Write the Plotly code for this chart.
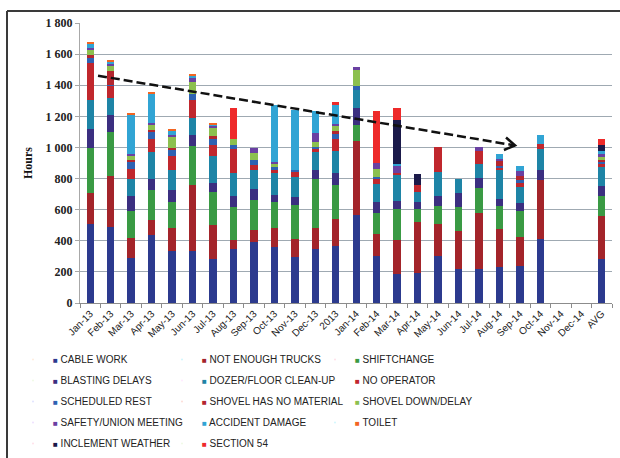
import math
import plotly.graph_objects as go

# ---------------------------------------------------------------- data
PERIODS = ["Jan-13", "Feb-13", "Mar-13", "Apr-13", "May-13", "Jun-13", "Jul-13",
           "Aug-13", "Sep-13", "Oct-13", "Nov-13", "Dec-13", "2013",
           "Jan-14", "Feb-14", "Mar-14", "Apr-14", "May-14", "Jun-14", "Jul-14",
           "Aug-14", "Sep-14", "Oct-14", "Nov-14", "Dec-14", "AVG"]

CAUSES = ["CABLE WORK", "NOT ENOUGH TRUCKS", "SHIFTCHANGE",
          "BLASTING DELAYS", "DOZER/FLOOR CLEAN-UP", "NO OPERATOR",
          "SCHEDULED REST", "SHOVEL HAS NO MATERIAL", "SHOVEL DOWN/DELAY",
          "SAFETY/UNION MEETING", "ACCIDENT DAMAGE", "TOILET",
          "INCLEMENT WEATHER", "SECTION 54"]

COLORS = ["#2C3A8E", "#A3242A", "#3A9A44",
          "#3B2F80", "#1E84A6", "#C0272D",
          "#2E62B2", "#B3262E", "#8CC04F",
          "#6A40A2", "#31A4D4", "#F26522",
          "#1B1A4A", "#EE2A2A"]

# hours per period (Nov-14 / Dec-14 not reported)
cable_work = [505, 486, 292, 437, 337, 337, 284, 348, 390, 363, 294, 348, 367,
              563, 305, 186, 196, 303, 220, 218, 230, 239, 412, None, None, 286]
not_enough_trucks = [203, 331, 128, 96, 143, 424, 217, 57, 79, 117, 116, 132, 173,
                     476, 137, 217, 322, 203, 245, 358, 246, 183, 377, None, None, 275]
shiftchange = [290, 281, 171, 192, 171, 248, 214, 209, 194, 171, 219, 320, 221,
               107, 138, 203, 86, 119, 154, 166, 149, 169, 0, None, None, 128]
blasting_delays = [118, 111, 96, 71, 74, 72, 57, 73, 67, 42, 54, 53, 75,
                   109, 71, 47, 47, 62, 85, 64, 43, 53, 68, None, None, 66]
dozer_floor = [189, 107, 109, 174, 132, 107, 173, 149, 127, 143, 128, 117, 139,
               115, 117, 172, 64, 156, 96, 90, 185, 103, 131, None, None, 120]
no_operator = [237, 80, 68, 86, 88, 117, 68, 152, 30, 17, 29, 17, 81,
               0, 26, 13, 42, 159, 0, 79, 15, 25, 36, None, None, 21]
scheduled_rest = [36, 8, 47, 42, 43, 39, 43, 30, 30, 22, 15, 15, 36,
                  28, 17, 0, 0, 0, 0, 0, 15, 21, 0, None, None, 13]
shovel_no_material = [15, 85, 10, 15, 8, 0, 19, 0, 0, 0, 0, 0, 11,
                      0, 0, 0, 0, 0, 0, 0, 27, 24, 0, None, None, 12]
shovel_down = [39, 32, 24, 34, 75, 75, 55, 39, 47, 17, 0, 36, 32,
               100, 53, 0, 0, 0, 0, 0, 0, 0, 0, None, None, 18]
safety_meeting = [8, 20, 15, 13, 10, 30, 11, 0, 32, 15, 0, 53, 17,
                  22, 36, 42, 0, 0, 0, 27, 18, 30, 0, None, None, 16]
accident_damage = [30, 10, 249, 188, 28, 16, 7, 0, 0, 366, 386, 145, 124,
                   0, 0, 15, 0, 0, 0, 0, 28, 34, 57, None, None, 22]
toilet = [6, 5, 7, 6, 7, 7, 4, 0, 0, 0, 0, 0, 0,
          0, 0, 0, 0, 0, 0, 0, 0, 0, 0, None, None, 0]
inclement_weather = [0, 0, 0, 0, 0, 0, 0, 0, 0, 0, 0, 0, 0,
                     0, 0, 281, 72, 0, 0, 0, 0, 0, 0, None, None, 40]
section_54 = [0, 0, 0, 0, 0, 0, 0, 196, 0, 0, 0, 0, 19,
              0, 333, 76, 0, 0, 0, 0, 0, 0, 0, None, None, 39]

SERIES = [cable_work, not_enough_trucks, shiftchange, blasting_delays,
          dozer_floor, no_operator, scheduled_rest, shovel_no_material,
          shovel_down, safety_meeting, accident_damage, toilet,
          inclement_weather, section_54]

# trend arrow: (category position, hours) at its start and at its tip
TREND_X = [0.38, 20.76]
TREND_Y = [1461, 1013]

Y_MAX = 1800

# ---------------------------------------------------------------- layout geometry
FIG_W, FIG_H = 620, 458
M_L, M_R, M_T, M_B = 80, 8, 23, 155
PLOT_W = FIG_W - M_L - M_R
PLOT_H = FIG_H - M_T - M_B

SANS = "Liberation Sans, Arial, sans-serif"
SERIF = "Liberation Serif, Times New Roman, serif"

fig = go.Figure()

legend_ids = ["legend", "legend2", "legend3"]

for name, color, vals in zip(CAUSES, COLORS, SERIES):
    fig.add_trace(go.Bar(
        x=PERIODS, y=vals, name=name, marker=dict(color=color, line=dict(width=0)),
        legendgroup=name, showlegend=False,
        hovertemplate="%{x}<br>" + name + ": %{y}<extra></extra>",
    ))

# legend entries: small coloured square in front of each label, three columns
for i, (name, color) in enumerate(zip(CAUSES, COLORS)):
    fig.add_trace(go.Scatter(
        x=[None], y=[None], mode="markers",
        marker=dict(size=1, opacity=0),
        name=f"<span style='font-size:8px;color:{color}'>\u25A0</span> {name}",
        legendgroup=name, legend=legend_ids[i % 3], showlegend=True,
        hoverinfo="skip",
    ))

# dashed trend line with an open arrow head
fig.add_shape(type="line", xref="x", yref="y",
              x0=TREND_X[0], y0=TREND_Y[0], x1=TREND_X[1], y1=TREND_Y[1],
              line=dict(color="#111111", width=2.5, dash="9px,4px"))

px_per_cat = PLOT_W / len(PERIODS)
px_per_hour = PLOT_H / Y_MAX
dx_px = (TREND_X[1] - TREND_X[0]) * px_per_cat
dy_px = -(TREND_Y[1] - TREND_Y[0]) * px_per_hour
ang = math.atan2(dy_px, dx_px)
ARM = 12
pts = []
for s in (1, -1):
    a = ang + math.pi + s * math.radians(32)
    pts.append((TREND_X[1] + ARM * math.cos(a) / px_per_cat,
                TREND_Y[1] - ARM * math.sin(a) / px_per_hour))
path = (f"M {pts[0][0]},{pts[0][1]} L {TREND_X[1]},{TREND_Y[1]} "
        f"L {pts[1][0]},{pts[1][1]}")
fig.add_shape(type="path", xref="x", yref="y", path=path,
              line=dict(color="#111111", width=2.5))

# outer frame: top and left edges (the rest runs off the page)
def px_to_paper_x(px):
    return (px - M_L) / PLOT_W


def px_to_paper_y(py):
    return (M_T + PLOT_H - py) / PLOT_H


FRAME_LEFT, FRAME_TOP = 7, 11
frame_line = dict(color="#3a3a3a", width=2)
fig.add_shape(type="line", xref="paper", yref="paper",
              x0=px_to_paper_x(FRAME_LEFT), x1=px_to_paper_x(FIG_W + 5),
              y0=px_to_paper_y(FRAME_TOP), y1=px_to_paper_y(FRAME_TOP),
              line=frame_line)
fig.add_shape(type="line", xref="paper", yref="paper",
              x0=px_to_paper_x(FRAME_LEFT), x1=px_to_paper_x(FRAME_LEFT),
              y0=px_to_paper_y(FRAME_TOP), y1=px_to_paper_y(FIG_H + 5),
              line=frame_line)

legend_common = dict(
    orientation="v", xanchor="left", yanchor="top", bgcolor="rgba(0,0,0,0)",
    font=dict(family=SANS, size=10, color="#222222"),
    traceorder="grouped", tracegroupgap=2, itemclick="toggle",
)
col_x = [13, 162, 315]
leg_top = 345
layout_legends = {}
for k, lid in enumerate(legend_ids):
    layout_legends[lid] = dict(legend_common,
                               x=px_to_paper_x(col_x[k]),
                               y=px_to_paper_y(leg_top))

fig.update_layout(
    width=FIG_W, height=FIG_H,
    margin=dict(l=M_L, r=M_R, t=M_T, b=M_B, pad=0, autoexpand=False),
    paper_bgcolor="white", plot_bgcolor="white",
    barmode="stack", bargap=0.64,
    separators=". ",
    showlegend=True,
    **layout_legends,
    xaxis=dict(
        type="category", categoryorder="array", categoryarray=PERIODS,
        tickangle=-45, tickfont=dict(family=SANS, size=10, color="#222222"),
        showline=True, linecolor="#8c8c8c", linewidth=1,
        ticks="outside", ticklen=4, tickcolor="#8c8c8c", tickson="boundaries",
        showgrid=False, fixedrange=True, automargin=False,
    ),
    yaxis=dict(
        range=[0, Y_MAX], dtick=200, tickformat=",d",
        tickfont=dict(family=SERIF, size=12, color="#222222", weight="bold"),
        title=dict(text="Hours", font=dict(family=SERIF, size=12, color="#111111",
                                           weight="bold"), standoff=10),
        showline=True, linecolor="#a8a8a8", linewidth=1,
        ticks="outside", ticklen=4, tickcolor="#a8a8a8",
        showgrid=True, gridcolor="#9fa9b2", gridwidth=1.3,
        zeroline=False, fixedrange=True, automargin=False,
    ),
)

fig.write_html("out.html")
